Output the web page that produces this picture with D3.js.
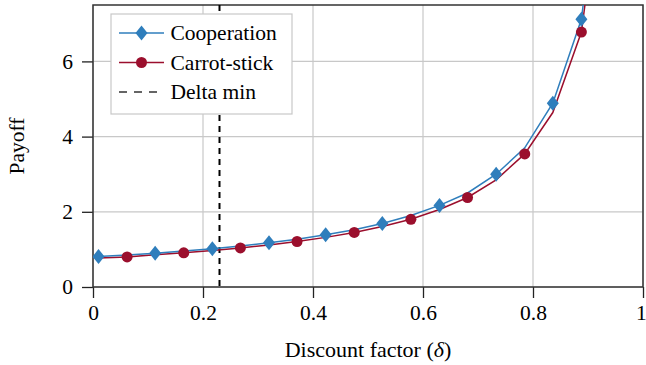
<!DOCTYPE html>
<html>
<head>
<meta charset="utf-8">
<script src="https://cdn.jsdelivr.net/npm/d3@7"></script>
<style>
  body { margin: 0; background: #fff; }
  svg text { font-family: "Times New Roman", "Liberation Serif", Tinos, "DejaVu Serif", serif; fill: #000; }
</style>
</head>
<body>
<div id="chart"></div>
<script>
// Data
var delta = [0.01, 0.062, 0.113, 0.165, 0.217, 0.268, 0.320, 0.371, 0.423, 0.475,
             0.526, 0.578, 0.630, 0.681, 0.733, 0.785, 0.836, 0.888, 0.940];
var cooperation = [0.81, 0.85, 0.90, 0.96, 1.02, 1.09, 1.18, 1.27, 1.39, 1.52,
                   1.69, 1.90, 2.17, 2.50, 3.00, 3.70, 4.89, 7.12, 13.3];
var carrotStick = [0.77, 0.80, 0.86, 0.91, 0.97, 1.04, 1.12, 1.21, 1.32, 1.45,
                   1.61, 1.80, 2.06, 2.38, 2.85, 3.54, 4.64, 6.78, 12.6];
var deltaMin = 0.23;
var xTicks = [0, 0.2, 0.4, 0.6, 0.8, 1];
var yTicks = [0, 2, 4, 6];

// Define SVG size and margins
var svgWidth = 646;
var svgHeight = 365;
var margin = { top: 5, right: 3, bottom: 78, left: 93 };
var chartWidth = svgWidth - margin.left - margin.right;
var chartHeight = svgHeight - margin.top - margin.bottom;

var blue = "#2f7ebc";
var red = "#9b0f2d";
var fontSize = 21.5;

var svg = d3.select("#chart")
  .append("svg")
  .attr("width", svgWidth)
  .attr("height", svgHeight);

var chartGroup = svg.append("g")
  .attr("transform", `translate(${margin.left}, ${margin.top})`);

// Scales
var xScale = d3.scaleLinear().domain([0, 1]).range([0, chartWidth]);
var yScale = d3.scaleLinear().domain([0, 7.5]).range([chartHeight, 0]);

// Grid
chartGroup.append("g")
  .selectAll("line.vg")
  .data(xTicks)
  .enter()
  .append("line")
  .attr("x1", d => xScale(d)).attr("x2", d => xScale(d))
  .attr("y1", 0).attr("y2", chartHeight)
  .attr("stroke", "#c8c8c8").attr("stroke-width", 1.2);
chartGroup.append("g")
  .selectAll("line.hg")
  .data(yTicks)
  .enter()
  .append("line")
  .attr("x1", 0).attr("x2", chartWidth)
  .attr("y1", d => yScale(d)).attr("y2", d => yScale(d))
  .attr("stroke", "#c8c8c8").attr("stroke-width", 1.2);

// Axes
var bottomAxis = d3.axisBottom(xScale).tickValues(xTicks)
  .tickSize(11).tickPadding(7).tickFormat(d3.format("~g"));
var leftAxis = d3.axisLeft(yScale).tickValues(yTicks)
  .tickSize(11).tickPadding(9);

var xAxisG = chartGroup.append("g")
  .attr("transform", `translate(0, ${chartHeight})`)
  .call(bottomAxis);
var yAxisG = chartGroup.append("g")
  .call(leftAxis);

[xAxisG, yAxisG].forEach(function(g) {
  g.select(".domain").remove();
  g.selectAll(".tick line").attr("stroke", "#222").attr("stroke-width", 1.3);
  g.selectAll(".tick text").attr("font-size", fontSize).attr("fill", "#000");
});
// keep the "1" inside the picture
xAxisG.selectAll(".tick text").filter(d => d === 1).attr("dx", "-0.1em");

// Frame
chartGroup.append("rect")
  .attr("width", chartWidth)
  .attr("height", chartHeight)
  .attr("fill", "none")
  .attr("stroke", "#333")
  .attr("stroke-width", 1.5);

// Clip region for the lines
svg.append("defs").append("clipPath")
  .attr("id", "plotclip")
  .append("rect")
  .attr("width", chartWidth)
  .attr("height", chartHeight);

var plot = chartGroup.append("g").attr("clip-path", "url(#plotclip)");

// Delta min
plot.append("line")
  .attr("x1", xScale(deltaMin)).attr("x2", xScale(deltaMin))
  .attr("y1", 0).attr("y2", chartHeight)
  .attr("stroke", "#000")
  .attr("stroke-width", 2)
  .attr("stroke-dasharray", "6,5");

var line = d3.line()
  .x(d => xScale(d[0]))
  .y(d => yScale(d[1]));

var coopData = delta.map((d, i) => [d, cooperation[i]]);
var carrotData = delta.map((d, i) => [d, carrotStick[i]]);

plot.append("path")
  .datum(carrotData)
  .attr("d", line)
  .attr("fill", "none")
  .attr("stroke", red)
  .attr("stroke-width", 1.5);

plot.append("path")
  .datum(coopData)
  .attr("d", line)
  .attr("fill", "none")
  .attr("stroke", blue)
  .attr("stroke-width", 1.5);

var diamond = "M0,-7.5L6,0L0,7.5L-6,0Z";

// markers: carrot-stick on odd samples, cooperation on even samples plus the last visible one
var carrotMarks = carrotData.filter((d, i) => i % 2 === 1 && d[1] <= 7.5);
var coopMarks = coopData.filter((d, i) => (i % 2 === 0 || i === 17) && d[1] <= 7.5);

plot.selectAll("circle.cs")
  .data(carrotMarks)
  .enter()
  .append("circle")
  .attr("cx", d => xScale(d[0]))
  .attr("cy", d => yScale(d[1]))
  .attr("r", 5.5)
  .attr("fill", red);

plot.selectAll("path.co")
  .data(coopMarks)
  .enter()
  .append("path")
  .attr("d", diamond)
  .attr("transform", d => `translate(${xScale(d[0])}, ${yScale(d[1])})`)
  .attr("fill", blue);

// Legend
var legend = svg.append("g");
legend.append("rect")
  .attr("x", 111).attr("y", 14)
  .attr("width", 181).attr("height", 100)
  .attr("fill", "#fff")
  .attr("stroke", "#c8c8c8")
  .attr("stroke-width", 1.2);

var legendItems = [
  { label: "Cooperation", color: blue, mark: "diamond", dash: null },
  { label: "Carrot-stick", color: red, mark: "circle", dash: null },
  { label: "Delta min", color: "#333", mark: null, dash: "8,7" }
];

legendItems.forEach(function(item, i) {
  var y = 33 + i * 29.5;
  legend.append("line")
    .attr("x1", 119).attr("x2", 164)
    .attr("y1", y).attr("y2", y)
    .attr("stroke", item.color)
    .attr("stroke-width", item.dash ? 1.5 : 1.3)
    .attr("stroke-dasharray", item.dash);
  if (item.mark === "diamond") {
    legend.append("path")
      .attr("d", diamond)
      .attr("transform", `translate(141.5, ${y})`)
      .attr("fill", item.color);
  } else if (item.mark === "circle") {
    legend.append("circle")
      .attr("cx", 141.5).attr("cy", y)
      .attr("r", 5.5)
      .attr("fill", item.color);
  }
  legend.append("text")
    .attr("x", 170.5).attr("y", y + 7)
    .attr("font-size", fontSize)
    .text(item.label);
});

// Axis labels
svg.append("text")
  .attr("transform", `translate(24, ${margin.top + chartHeight / 2}) rotate(-90)`)
  .attr("text-anchor", "middle")
  .attr("font-size", fontSize)
  .text("Payoff");

var xLabel = svg.append("text")
  .attr("x", margin.left + chartWidth / 2)
  .attr("y", 357)
  .attr("text-anchor", "middle")
  .attr("font-size", 22);
xLabel.append("tspan").text("Discount factor (");
xLabel.append("tspan").attr("font-style", "italic").text("δ");
xLabel.append("tspan").text(")");
</script>
</body>
</html>
